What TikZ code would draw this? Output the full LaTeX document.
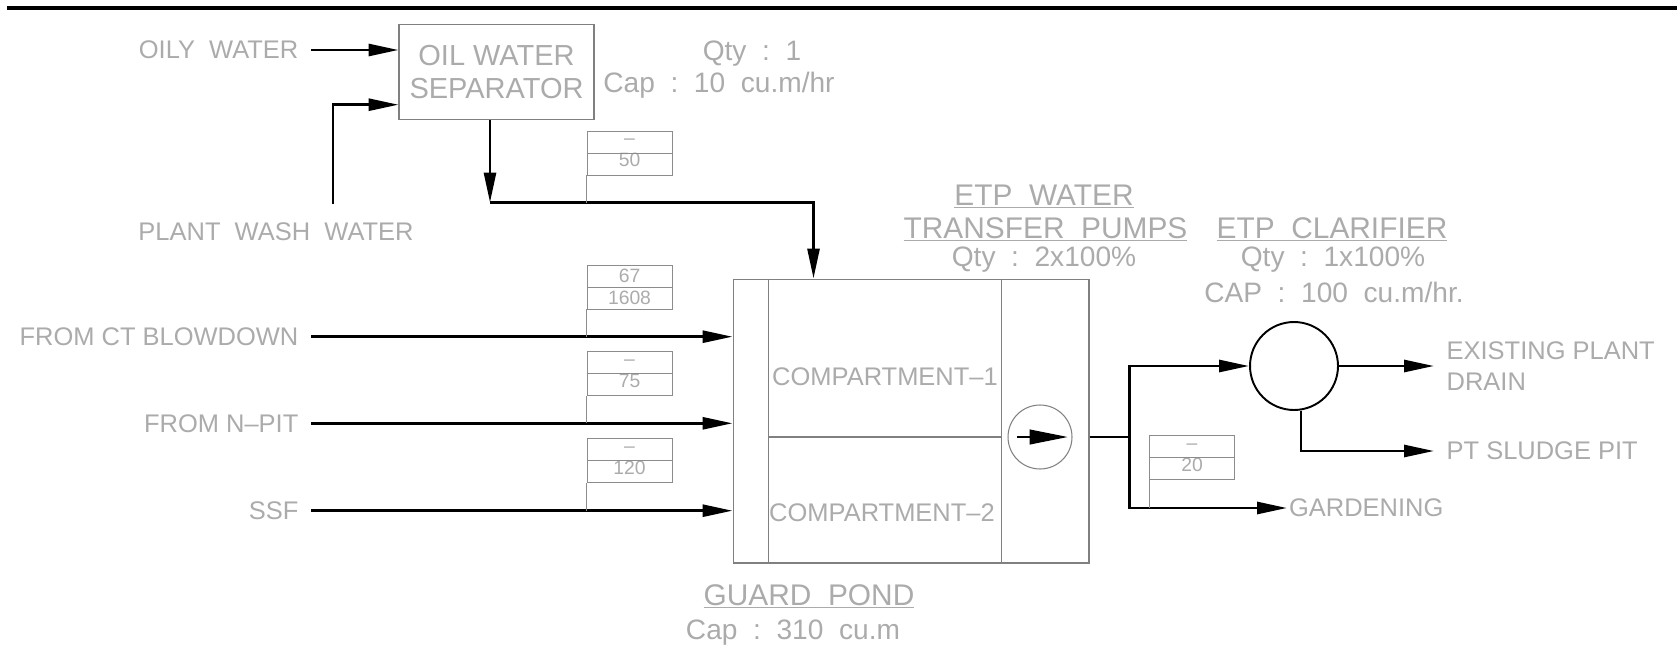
\documentclass[tikz,border=0pt]{standalone}
\usepackage{fontspec}
\setmainfont{Liberation Sans}
\usetikzlibrary{arrows.meta,calc}

\begin{document}
\begin{tikzpicture}[x=0.02cm, y=-0.02cm,
  every node/.style={font=\fontsize{14.5}{17.4}\selectfont, text=black!33, inner sep=2pt},
  port/.style={inner xsep=7pt},
  spec/.style={font=\fontsize{16}{19}\selectfont, anchor=base},
  head/.style={font=\fontsize{17}{20}\selectfont, anchor=base},
  unit/.style={draw=black!50, line width=0.6pt},
  tag/.style={draw=black!45, line width=0.5pt, minimum width=1.7cm, minimum height=0.88cm,
    inner sep=0pt, align=center, font=\fontsize{11}{12.5}\selectfont},
  leader/.style={draw=black!45, line width=0.5pt},
  pipe/.style={line width=1.6pt},
  flow/.style={pipe, -{Triangle[length=0.6cm, width=0.24cm]}},
  pumparrow/.style={line width=0.6pt, -{Triangle[length=0.76cm, width=0.3cm]}}]
  \useasboundingbox (0,0) rectangle (1677,652);
  \draw[line width=0.09cm] (7,8) -- (1677,8);

  % oil water separator
  \node[unit, minimum width=3.9cm, minimum height=1.894cm, align=center,
    font=\fontsize{16.5}{18.8}\selectfont] (ows) at (496.5,71.7) {OIL WATER\\SEPARATOR};
  \node[spec] (owsqty) at (752,61) {Qty\ \ :\ \ 1};
  \node[spec] (owscap) at (719,92) {Cap\ \ :\ \ 10\ \ cu.m/hr};
  \node[port, anchor=east] (oily) at (311,50) {OILY\ \ WATER};
  \node[anchor=base] (wash) at (276,240) {PLANT\ \ WASH\ \ WATER};
  \coordinate (washup) at (333,204);
  \coordinate (owsbend) at (490,202.5);
  \draw[flow] (oily.east) -- (oily.east -| ows.west);
  \draw[flow] (washup) |- ($(ows.west)+(0,33)$);
  \draw[flow] (owsbend |- ows.south) -- (owsbend);

  % guard pond
  \node[unit, minimum width=7.12cm, minimum height=5.68cm] (pond) at (911,421) {};
  \draw[unit] ($(pond.north west)+(36,0)$) -- ($(pond.south west)+(36,0)$);
  \draw[unit] ($(pond.north east)+(-88,0)$) -- ($(pond.south east)+(-88,0)$);
  \draw[unit] ($(pond.west)+(36,16)$) -- ($(pond.east)+(-88,16)$);
  \node (comp1) at (885,377) {COMPARTMENT--1};
  \node (comp2) at (882,512.5) {COMPARTMENT--2};
  \node[unit, circle, minimum size=1.28cm, inner sep=0pt] (pump) at (1040,437) {};
  \draw[pumparrow] ($(pump.west)+(10,0)$) -- ($(pump.east)+(-5,0)$);
  \node[head] (pondname) at (809,605) {\underline{GUARD\ \ POND}};
  \node[spec] (pondcap) at (793,639) {Cap\ \ :\ \ 310\ \ cu.m};
  \node[head] (pumpname) at (1044,205) {\underline{ETP\ \ WATER}};
  \node[head] (pumpname2) at (1045.5,238) {\underline{TRANSFER\ \ PUMPS}};
  \node[spec] (pumpqty) at (1044,266) {Qty\ \ :\ \ 2x100\%};

  \draw[flow] (owsbend) -| ($(pond.north west)+(81,0)$);
  \node[port, anchor=east] (ctb) at (311,336.7) {FROM CT BLOWDOWN};
  \node[port, anchor=east] (npit) at (311,423.3) {FROM N--PIT};
  \node[port, anchor=east] (ssf) at (311,510.7) {SSF};
  \foreach \src in {ctb,npit,ssf}
    \draw[flow] (\src.east) -- (\src.east -| pond.west);

  % clarifier
  \node[circle, draw=black, line width=1.1pt, minimum size=1.76cm, inner sep=0pt] (clar) at (1294,366) {};
  \node[head] (clarname) at (1332,238) {\underline{ETP\ \ CLARIFIER}};
  \node[spec] (clarqty) at (1333,266) {Qty\ \ :\ \ 1x100\%};
  \node[spec] (clarcap) at (1334,302) {CAP\ \ :\ \ 100\ \ cu.m/hr.};
  \node[anchor=west, inner xsep=1pt] (garden) at (1287,508) {GARDENING};
  \node[port, anchor=west, align=left] (drain) at (1434,366) {EXISTING PLANT\\DRAIN};
  \node[port, anchor=west] (sludge) at (1434,451) {PT SLUDGE PIT};
  \coordinate (split) at ($(pump -| pond.east)+(40,0)$);
  \draw[pipe] (pump -| pond.east) -- (split);
  \draw[flow] (split) |- (clar.west);
  \draw[flow] (split) |- (garden.west);
  \draw[flow] (clar.east) -- (drain.west);
  \draw[flow] ($(clar.south)+(7,0)$) |- (sludge.west);

  % flow tags
  \node[tag] (tag50) at (629.5,153) {--\\50};
  \node[tag] (tag1608) at (629.5,287) {67\\1608};
  \node[tag] (tag75) at (629.5,373.7) {--\\75};
  \node[tag] (tag120) at (629.5,460.5) {--\\120};
  \node[tag] (tag20) at (1192,457.5) {--\\20};
  \foreach \t/\src in {tag50/owsbend, tag1608/ctb, tag75/npit, tag120/ssf, tag20/garden}{
    \draw[leader] (\t.west) -- (\t.east);
    \draw[leader] (\t.south west) -- (\t.south west |- \src);
  }
\end{tikzpicture}
\end{document}
